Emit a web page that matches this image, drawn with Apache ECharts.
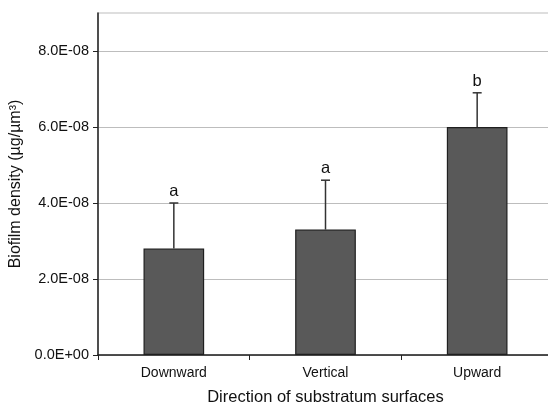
<!DOCTYPE html>
<html>
<head>
<meta charset="utf-8">
<script src="https://cdn.jsdelivr.net/npm/echarts@6/dist/echarts.min.js"></script>
<style>
  html, body { margin: 0; padding: 0; background: #fff; }
  #main { width: 548px; height: 404px; }
</style>
</head>
<body>
<div id="main"></div>
<script>
// data
var categories = ['Downward', 'Vertical', 'Upward'];
var means = [2.8e-8, 3.3e-8, 6.0e-8];
var errTops = [4.0e-8, 4.6e-8, 6.9e-8];
var letters = ['a', 'a', 'b'];
var yTicks = [0, 2e-8, 4e-8, 6e-8, 8e-8];

function sci(v) {
  if (v === 0) return '0.0E+00';
  var s = v.toExponential(1).split('e');
  var exp = parseInt(s[1], 10);
  var sign = exp < 0 ? '-' : '+';
  var e = Math.abs(exp);
  return s[0] + 'E' + sign + (e < 10 ? '0' + e : e);
}

var errData = categories.map(function (c, i) {
  return [i, means[i], errTops[i]];
});

var chart = echarts.init(document.getElementById('main'));
chart.setOption({
  animation: false,
  textStyle: { fontFamily: 'Liberation Sans, Arial, sans-serif' },
  grid: {
    left: 98, top: 13, width: 455, height: 342,
    outerBoundsMode: 'none', containLabel: false,
    show: true, borderColor: '#bdbdbd', borderWidth: 1.2
  },
  xAxis: {
    type: 'category',
    data: categories,
    name: 'Direction of substratum surfaces',
    nameLocation: 'middle',
    nameGap: 34,
    nameTextStyle: { fontSize: 16.5, color: '#111' },
    axisLine: { lineStyle: { color: '#222', width: 1.5 } },
    axisTick: { show: true, length: 5, interval: 0, lineStyle: { color: '#222' } },
    axisLabel: { fontSize: 14, color: '#111', margin: 11 }
  },
  yAxis: {
    type: 'value',
    min: 0,
    max: 9e-8,
    interval: 2e-8,
    name: 'Biofilm density (µg/µm³)',
    nameLocation: 'middle',
    nameRotate: 90,
    nameGap: 72,
    nameTextStyle: { fontSize: 16, color: '#111' },
    axisLine: { show: true, lineStyle: { color: '#222', width: 1.5 } },
    axisTick: { show: true, length: 5, customValues: yTicks, lineStyle: { color: '#222' } },
    axisLabel: {
      fontSize: 14.5,
      color: '#111',
      margin: 9,
      customValues: yTicks,
      formatter: sci
    },
    splitLine: { show: true, lineStyle: { color: '#bdbdbd', width: 1.2 } }
  },
  series: [
    {
      type: 'bar',
      data: means,
      barWidth: '40%',
      itemStyle: { color: '#595959', borderColor: '#1f1f1f', borderWidth: 1.2 }
    },
    {
      type: 'custom',
      data: errData,
      z: 5,
      renderItem: function (params, api) {
        var x = api.value(0);
        var base = api.coord([x, api.value(1)]);
        var top = api.coord([x, api.value(2)]);
        var cap = 4.5;
        return {
          type: 'group',
          children: [
            {
              type: 'line',
              shape: { x1: base[0], y1: base[1], x2: top[0], y2: top[1] },
              style: { stroke: '#333', lineWidth: 1.5 }
            },
            {
              type: 'line',
              shape: { x1: top[0] - cap, y1: top[1], x2: top[0] + cap, y2: top[1] },
              style: { stroke: '#333', lineWidth: 1.5 }
            },
            {
              type: 'text',
              x: top[0],
              y: top[1] - 3,
              style: {
                text: letters[params.dataIndex],
                fill: '#111',
                fontSize: 16.5,
                fontFamily: 'Liberation Sans, Arial, sans-serif',
                align: 'center',
                verticalAlign: 'bottom'
              }
            }
          ]
        };
      }
    }
  ]
});
</script>
</body>
</html>
